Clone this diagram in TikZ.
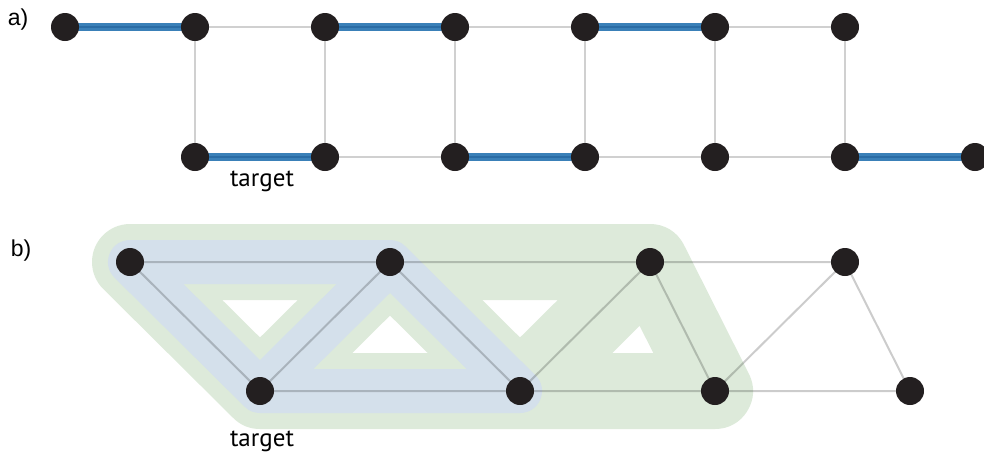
\documentclass[tikz,border=0pt]{standalone}
\usepackage{fontspec}
\setmainfont{Liberation Sans}
\newfontfamily\labfont{PT Sans}
\definecolor{nodeblack}{RGB}{35,31,32}
\definecolor{edgegrey}{RGB}{208,208,208}
\definecolor{pathblue}{RGB}{58,128,184}
\definecolor{pathbluedark}{RGB}{42,108,165}
\definecolor{regiongreen}{RGB}{221,234,218}
\definecolor{regionblue}{RGB}{212,224,235}
\begin{document}
\begin{tikzpicture}[x=1pt,y=-1pt,
  vtx/.style={circle,fill=nodeblack,draw=none,minimum size=28pt,inner sep=0pt},
  gedge/.style={draw=edgegrey,line width=2pt},
  bedge/.style={draw=pathblue,line width=8pt},
  bcore/.style={draw=pathbluedark,line width=2pt},
  tedge/.style={draw=black,draw opacity=0.2,line width=2pt},
  greenreg/.style={draw=regiongreen,line width=76pt,line cap=round,line join=round},
  bluereg/.style={draw=regionblue,line width=44pt,line cap=round,line join=round},
  lbl/.style={inner sep=0pt,font=\fontsize{23}{27}\selectfont},
  tgt/.style={inner sep=0pt,font=\labfont\fontsize{25}{29}\selectfont}]
\useasboundingbox (0,0) rectangle (984,459);
% ---------- part a ----------
\node[lbl] (la) at (18,20) {a)};
\foreach \i/\x in {1/65,2/195,3/325,4/455,5/585,6/715,7/845}
  \coordinate (t\i) at (\x,27);
\foreach \i/\x in {1/195,2/325,3/455,4/585,5/715,6/845,7/975}
  \coordinate (u\i) at (\x,157);
% grey edges
\draw[gedge] (t2) -- (t3) (t4) -- (t5) (t6) -- (t7);
\draw[gedge] (u2) -- (u3) (u4) -- (u5) (u5) -- (u6);
\draw[gedge] (t2) -- (u1) (t3) -- (u2) (t4) -- (u3) (t5) -- (u4) (t6) -- (u5) (t7) -- (u6);
% blue edges
\foreach \a/\b in {t1/t2,t3/t4,t5/t6,u1/u2,u3/u4,u6/u7}{
  \draw[bedge] (\a) -- (\b);
  \draw[bcore] (\a) -- (\b);
}
\foreach \i in {1,...,7}{
  \node[vtx] (T\i) at (t\i) {};
  \node[vtx] (U\i) at (u\i) {};
}
\node[tgt] (targa) at (262,181) {target};
% ---------- part b ----------
\node[lbl] (lb) at (21,251) {b)};
\coordinate (p1) at (130,262);
\coordinate (p2) at (390,262);
\coordinate (p3) at (650,262);
\coordinate (p4) at (845,262);
\coordinate (q1) at (260,391);
\coordinate (q2) at (520,391);
\coordinate (q3) at (715,391);
\coordinate (q4) at (910,391);
% green region
\draw[greenreg] (p1) -- (p2) -- (p3) -- (q3) -- (q2) -- (q1) -- (p1)
  (q1) -- (p2) -- (q2) -- (p3) (q2) -- (q3);
% blue region
\draw[bluereg] (p1) -- (p2) -- (q2) -- (q1) -- cycle (q1) -- (p2);
% edges
\draw[tedge] (p1) -- (p2) (p2) -- (p3) (p3) -- (p4)
  (q1) -- (q2) (q2) -- (q3) (q3) -- (q4)
  (p1) -- (q1) (q1) -- (p2) (p2) -- (q2) (q2) -- (p3) (p3) -- (q3) (q3) -- (p4) (p4) -- (q4);
\foreach \n in {p1,p2,p3,p4,q1,q2,q3,q4}
  \node[vtx] (N\n) at (\n) {};
\node[tgt] (targb) at (262,441) {target};
\end{tikzpicture}
\end{document}
